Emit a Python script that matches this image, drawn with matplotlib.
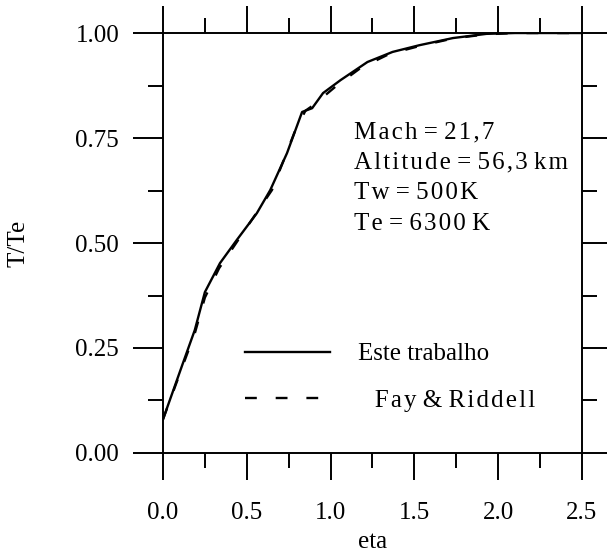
import numpy as np
import matplotlib
matplotlib.use('Agg')
import matplotlib.pyplot as plt
from matplotlib.ticker import MultipleLocator, FormatStrFormatter

plt.rcParams['font.family'] = ['Liberation Serif', 'DejaVu Serif']

# Este trabalho (solid)
eta_este = [0.0, 0.12, 0.19, 0.25, 0.34, 0.44, 0.56, 0.64, 0.74, 0.83, 0.89, 0.955,
            1.06, 1.22, 1.37, 1.53, 1.73, 1.93, 2.1, 2.5]
t_este = [0.08, 0.215, 0.293, 0.383, 0.452, 0.507, 0.571, 0.626, 0.714, 0.812, 0.821, 0.857,
          0.888, 0.931, 0.955, 0.971, 0.988, 0.998, 1.0, 1.0]

# Fay & Riddell (dashed)
eta_fay = [0.0, 0.12, 0.19, 0.25, 0.335, 0.44, 0.55, 0.65, 0.72, 0.79, 0.85, 0.9,
           1.04, 1.18, 1.35, 1.53, 1.73, 1.93, 2.1, 2.5]
t_fay = [0.08, 0.21, 0.285, 0.37, 0.44, 0.502, 0.567, 0.626, 0.697, 0.769, 0.815, 0.829,
         0.876, 0.917, 0.95, 0.969, 0.987, 0.997, 1.0, 1.0]

labels = ['Este trabalho', 'Fay & Riddell']
info_lines = ['Mach = 21,7', 'Altitude = 56,3 km', 'Tw = 500K', 'Te = 6300 K']


def spaced(s):
    # the original typesetting is letter-spaced: put hair spaces between letters
    out = s[0]
    for a, b in zip(s[:-1], s[1:]):
        if a != ' ' and b != ' ':
            out += '\u200a'
        out += b
    return out


fs = 18
fig = plt.figure(figsize=(6.07, 5.55), dpi=100)
ax = fig.add_axes([0.2685, 0.1838, 0.6903, 0.7567])

ax.plot(eta_este, t_este, color='black', lw=1.7, label=labels[0])
ax.plot(eta_fay, t_fay, color='black', lw=1.7, dashes=(5, 8),
        label='\u2002\u200a\u200a' + spaced(labels[1]))

ax.set_xlim(0, 2.5)
ax.set_ylim(0, 1.0)
ax.xaxis.set_major_locator(MultipleLocator(0.5))
ax.xaxis.set_minor_locator(MultipleLocator(0.25))
ax.yaxis.set_major_locator(MultipleLocator(0.25))
ax.yaxis.set_minor_locator(MultipleLocator(0.125))
ax.xaxis.set_major_formatter(FormatStrFormatter('%.1f'))
ax.yaxis.set_major_formatter(FormatStrFormatter('%.2f'))

for s in ax.spines.values():
    s.set_linewidth(1.4)
ax.tick_params(axis='both', which='both', direction='out', width=1.4,
               top=True, right=True, labelsize=fs, labeltop=False, labelright=False)
ax.tick_params(axis='x', which='major', length=19.5, pad=15.5)
ax.tick_params(axis='x', which='minor', length=10.5)
ax.tick_params(axis='y', which='major', length=21.5, pad=10)
ax.tick_params(axis='y', which='minor', length=10.5)

ax.set_xlabel('eta', fontsize=fs, labelpad=5)
ax.set_ylabel('T/Te', fontsize=fs, labelpad=33)

ax.text(0.456, 0.79, '\n'.join(spaced(l) for l in info_lines), transform=ax.transAxes,
        fontsize=fs, ha='left', va='top', linespacing=1.5)

ax.legend(loc='upper left', bbox_to_anchor=(0.196, 0.262), frameon=False,
          fontsize=fs, handlelength=3.4, handletextpad=1.1, labelspacing=0.95,
          borderpad=0, borderaxespad=0)

fig.savefig('out.png', dpi=100)
